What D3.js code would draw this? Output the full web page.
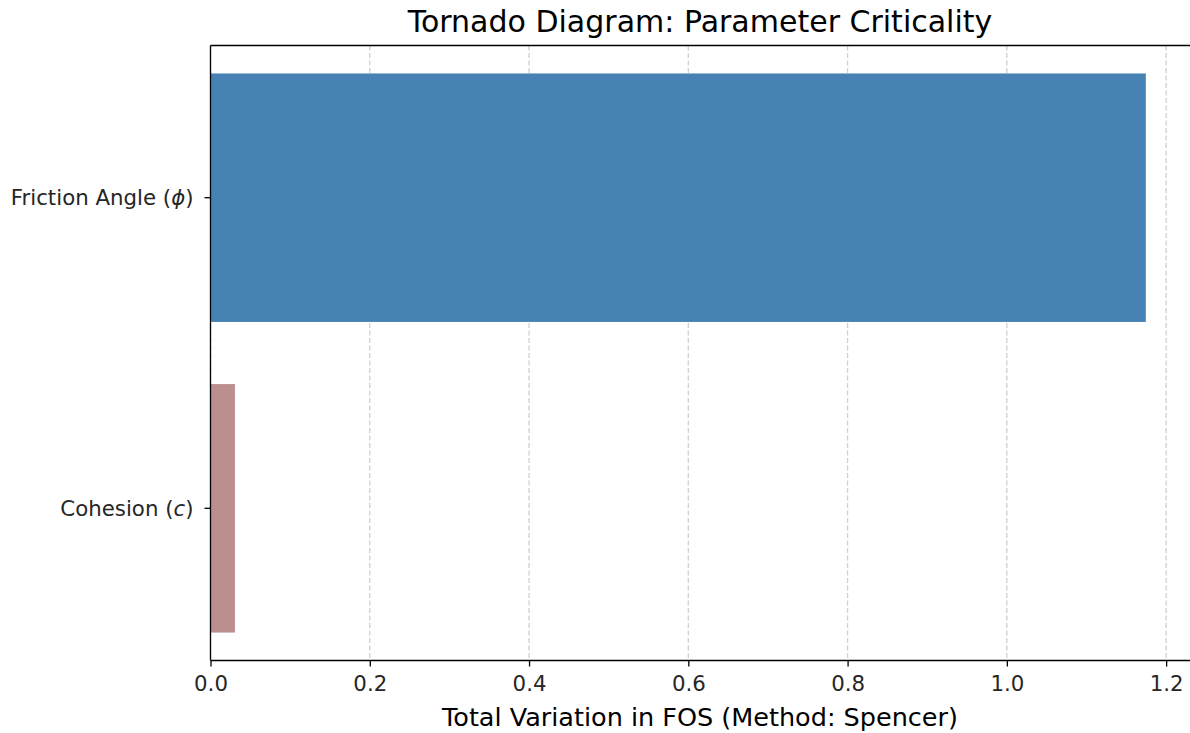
<!DOCTYPE html>
<html>
<head>
<meta charset="utf-8">
<script src="https://cdn.jsdelivr.net/npm/d3@7"></script>
<style>
  html, body { margin: 0; padding: 0; background: #fff; }
  svg { display: block; font-family: "DejaVu Sans", sans-serif; }
</style>
</head>
<body>
<svg id="chart" width="1190" height="733"></svg>
<script>
// Parameters ranked by their swing in factor of safety (bottom to top)
const parameters = ["Cohesion", "Friction Angle"];
const symbols = ["c", "\u03D5"];
const totalVariation = [0.0307, 1.1745];
const barColors = ["#bc8f8f", "#4682b4"];
const xTicks = [0.0, 0.2, 0.4, 0.6, 0.8, 1.0, 1.2];

const svg = d3.select("#chart");
const margin = { left: 210.5, right: 1192.6, top: 45.5, bottom: 660.5 };

// x domain padded by 5% on the right like a default bar layout
const xMax = d3.max(totalVariation) * 1.05;
const x = d3.scaleLinear().domain([0, xMax]).range([margin.left, margin.right]);

// categorical positions with a 0.8 bar thickness and 5% padding
const n = parameters.length;
const yLo = -0.4 - 0.05 * (n - 1 + 0.8);
const yHi = (n - 1) + 0.4 + 0.05 * (n - 1 + 0.8);
const y = d3.scaleLinear().domain([yLo, yHi]).range([margin.bottom, margin.top]);

// dashed vertical grid behind the bars
svg.append("g")
  .selectAll("line")
  .data(xTicks)
  .join("line")
  .attr("x1", d => x(d)).attr("x2", d => x(d))
  .attr("y1", margin.top).attr("y2", margin.bottom)
  .attr("stroke", "#b0b0b0")
  .attr("stroke-opacity", 0.6)
  .attr("stroke-width", 1.3)
  .attr("stroke-dasharray", "5,2.5");

// bars
svg.append("g")
  .selectAll("rect")
  .data(totalVariation)
  .join("rect")
  .attr("x", x(0))
  .attr("y", (d, i) => y(i + 0.4))
  .attr("width", d => x(d) - x(0))
  .attr("height", (d, i) => y(i - 0.4) - y(i + 0.4))
  .attr("fill", (d, i) => barColors[i]);

// x axis
const xAxis = d3.axisBottom(x)
  .tickValues(xTicks)
  .tickFormat(d3.format(".1f"))
  .tickSize(6)
  .tickPadding(9);
const gx = svg.append("g")
  .attr("transform", `translate(0,${margin.bottom})`)
  .call(xAxis);
gx.select(".domain").remove();
gx.selectAll(".tick line").attr("stroke", "#000").attr("stroke-width", 1.3);
gx.selectAll(".tick text")
  .attr("fill", "#262626")
  .style("font-size", "21.3px")
  .style("font-family", "DejaVu Sans");

// y axis ticks and labels with italic symbol
const gy = svg.append("g");
const yt = gy.selectAll("g")
  .data(parameters)
  .join("g")
  .attr("transform", (d, i) => `translate(0,${y(i)})`);
yt.append("line")
  .attr("x1", margin.left - 6).attr("x2", margin.left)
  .attr("stroke", "#000").attr("stroke-width", 1.3);
const lbl = yt.append("text")
  .attr("x", margin.left - 17)
  .attr("dy", "0.35em")
  .attr("text-anchor", "end")
  .style("font-size", "21.3px")
  .attr("fill", "#262626");
lbl.append("tspan").text(d => d + " (");
lbl.append("tspan").style("font-style", "italic").text((d, i) => symbols[i]);
lbl.append("tspan").text(")");

// spines: left, top, bottom
const spine = svg.append("g")
  .attr("stroke", "#000").attr("stroke-width", 1.3).attr("fill", "none");
spine.append("line").attr("x1", margin.left).attr("x2", margin.left)
  .attr("y1", margin.top).attr("y2", margin.bottom);
spine.append("line").attr("x1", margin.left).attr("x2", margin.right)
  .attr("y1", margin.top).attr("y2", margin.top);
spine.append("line").attr("x1", margin.left).attr("x2", margin.right)
  .attr("y1", margin.bottom).attr("y2", margin.bottom);
spine.append("line").attr("x1", margin.right).attr("x2", margin.right)
  .attr("y1", margin.top).attr("y2", margin.bottom);

// title and axis label
svg.append("text")
  .attr("x", 700)
  .attr("y", 32)
  .attr("text-anchor", "middle")
  .style("font-size", "30px")
  .attr("fill", "#000")
  .text("Tornado Diagram: Parameter Criticality");

svg.append("text")
  .attr("x", 700)
  .attr("y", 726)
  .attr("text-anchor", "middle")
  .style("font-size", "25.5px")
  .attr("fill", "#000")
  .text("Total Variation in FOS (Method: Spencer)");
</script>
</body>
</html>
